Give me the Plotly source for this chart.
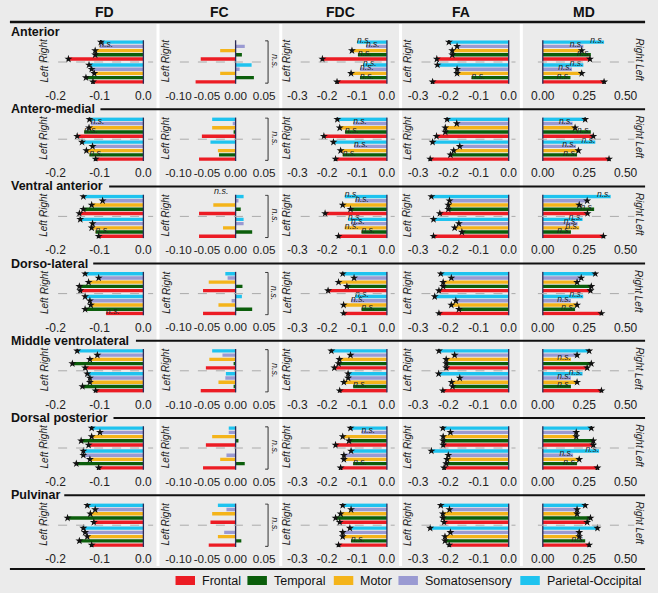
import plotly.graph_objects as go

W, H = 658, 593
BG = "#ebebeb"

regions = ["Anterior", "Antero-medial", "Ventral anterior", "Dorso-lateral",
           "Middle ventrolateral", "Dorsal posterior", "Pulvinar"]
measures = ["FD", "FC", "FDC", "FA", "MD"]
tracts = ["Frontal", "Temporal", "Motor", "Somatosensory", "Parietal-Occipital"]
colors = ["#ec1c24", "#0b5e0b", "#f4b41a", "#9a9ad2", "#1ec3ef"]

# values per region, order: Frontal, Temporal, Motor, Somatosensory, Parietal-Occipital
FD_right = [[-0.171, -0.110, -0.110, -0.100, -0.097],
            [-0.151, -0.135, -0.124, -0.120, -0.123],
            [-0.146, -0.137, -0.118, -0.093, -0.137],
            [-0.144, -0.146, -0.125, -0.102, -0.133],
            [-0.133, -0.162, -0.122, -0.105, -0.151],
            [-0.125, -0.142, -0.118, -0.099, -0.118],
            [-0.113, -0.173, -0.121, -0.110, -0.128]]
FD_left = [[-0.115, -0.131, -0.112, -0.118, -0.124],
           [-0.109, -0.123, -0.130, -0.116, -0.140],
           [-0.102, -0.109, -0.118, -0.116, -0.144],
           [-0.085, -0.133, -0.120, -0.122, -0.133],
           [-0.109, -0.139, -0.122, -0.122, -0.128],
           [-0.102, -0.153, -0.122, -0.137, -0.137],
           [-0.118, -0.146, -0.128, -0.133, -0.137]]
FC_right = [[-0.061, 0.011, -0.027, 0.016, 0.000],
            [-0.059, -0.003, -0.041, -0.005, -0.041],
            [-0.064, 0.009, -0.039, 0.005, 0.014],
            [-0.057, 0.012, -0.047, -0.014, -0.018],
            [-0.052, -0.002, -0.046, -0.023, -0.041],
            [-0.052, 0.005, -0.041, -0.012, -0.012],
            [-0.044, 0.000, -0.041, -0.016, -0.031]]
FC_left = [[-0.070, 0.032, -0.027, 0.007, 0.028],
           [-0.064, -0.029, -0.031, 0.000, -0.044],
           [-0.064, 0.029, -0.022, 0.014, 0.014],
           [-0.057, 0.029, -0.030, -0.007, 0.011],
           [-0.061, -0.002, -0.030, -0.018, -0.017],
           [-0.057, 0.016, -0.027, -0.016, 0.000],
           [-0.047, 0.010, -0.031, -0.020, 0.000]]
FDC_right = [[-0.216, -0.097, -0.117, -0.070, -0.100],
             [-0.211, -0.140, -0.158, -0.113, -0.166],
             [-0.207, -0.122, -0.148, -0.106, -0.141],
             [-0.197, -0.134, -0.162, -0.110, -0.148],
             [-0.176, -0.162, -0.159, -0.122, -0.186],
             [-0.172, -0.127, -0.148, -0.085, -0.122],
             [-0.158, -0.172, -0.155, -0.120, -0.148]]
FDC_left = [[-0.167, -0.090, -0.120, -0.090, -0.080],
            [-0.172, -0.148, -0.155, -0.110, -0.179],
            [-0.162, -0.085, -0.141, -0.120, -0.130],
            [-0.145, -0.085, -0.145, -0.120, -0.106],
            [-0.158, -0.113, -0.144, -0.130, -0.130],
            [-0.155, -0.113, -0.144, -0.144, -0.120],
            [-0.162, -0.120, -0.148, -0.148, -0.124]]
FA_right = [[-0.238, -0.187, -0.187, -0.171, -0.198],
            [-0.239, -0.210, -0.210, -0.172, -0.204],
            [-0.228, -0.200, -0.200, -0.196, -0.256],
            [-0.231, -0.217, -0.217, -0.190, -0.225],
            [-0.207, -0.207, -0.207, -0.179, -0.231],
            [-0.217, -0.217, -0.217, -0.193, -0.218],
            [-0.214, -0.218, -0.218, -0.196, -0.225]]
FA_left = [[-0.252, -0.123, -0.171, -0.171, -0.236],
           [-0.260, -0.193, -0.182, -0.162, -0.252],
           [-0.249, -0.155, -0.179, -0.165, -0.249],
           [-0.231, -0.165, -0.190, -0.175, -0.245],
           [-0.218, -0.186, -0.189, -0.162, -0.232],
           [-0.214, -0.207, -0.204, -0.200, -0.256],
           [-0.197, -0.211, -0.211, -0.193, -0.260]]
MD_right = [[0.285, 0.290, 0.235, 0.245, 0.370],
            [0.305, 0.290, 0.195, 0.180, 0.256],
            [0.270, 0.310, 0.220, 0.268, 0.410],
            [0.288, 0.293, 0.207, 0.232, 0.317],
            [0.268, 0.293, 0.170, 0.207, 0.280],
            [0.305, 0.305, 0.202, 0.202, 0.293],
            [0.268, 0.288, 0.207, 0.207, 0.256]]
MD_left = [[0.370, 0.167, 0.235, 0.176, 0.245],
           [0.400, 0.207, 0.215, 0.200, 0.317],
           [0.366, 0.170, 0.220, 0.210, 0.240],
           [0.354, 0.195, 0.207, 0.170, 0.244],
           [0.354, 0.170, 0.207, 0.170, 0.240],
           [0.330, 0.207, 0.220, 0.183, 0.340],
           [0.280, 0.256, 0.220, 0.220, 0.330]]

# significance: s = star, n = n.s. (order Frontal..Parietal-Occipital)
FD_sig_right = ["sssns", "snsns", "sssss", "sssss", "sssss", "sssss", "sssss"]
FD_sig_left = ["sssss", "snsss", "snsss", "nssss", "sssss", "sssss", "sssss"]
FDC_sig_right = ["snsnn", "snsns", "sssnn", "sssss", "sssss", "sssns", "sssss"]
FDC_sig_left = ["snsnn", "snsns", "snnnn", "snsnn", "snsss", "snsss", "snsss"]
FA_sig_right = ["sssss"] * 7
FA_sig_left = ["snsss", "sssss", "sssss", "sssss", "sssss", "sssss", "sssss"]
MD_sig_right = ["snsnn", "snsns", "snssn", "sssss", "ssnss", "sssss", "sssss"]
MD_sig_left = ["snsnn", "snsnn", "snnnn", "snsnn", "snsnn", "snsnn", "snsss"]

data = {"FD": (FD_right, FD_left, FD_sig_right, FD_sig_left),
        "FC": (FC_right, FC_left, None, None),
        "FDC": (FDC_right, FDC_left, FDC_sig_right, FDC_sig_left),
        "FA": (FA_right, FA_left, FA_sig_right, FA_sig_left),
        "MD": (MD_right, MD_left, MD_sig_right, MD_sig_left)}

# column geometry (pixels): domain, two reference ticks, hemisphere label x
cols = {
    "FD": dict(dom=(44, 150), ref=((-0.2, 50), (0.0, 140)), ticks=[-0.2, -0.1, 0.0],
               labels=["-0.2", "-0.1", "0.0"], hx=38, head=100),
    "FC": dict(dom=(170, 266), ref=((-0.10, 176), (0.05, 264)), ticks=[-0.10, -0.05, 0.0, 0.05],
               labels=["-0.10", "-0.05", "0.00", "0.05"], hx=163, head=218),
    "FDC": dict(dom=(293, 398), ref=((-0.3, 298), (0.0, 390)), ticks=[-0.3, -0.2, -0.1, 0.0],
                labels=["-0.3", "-0.2", "-0.1", "0.0"], hx=287, head=342),
    "FA": dict(dom=(417, 522), ref=((-0.3, 422), (0.0, 515)), ticks=[-0.3, -0.2, -0.1, 0.0],
               labels=["-0.3", "-0.2", "-0.1", "0.0"], hx=411, head=466),
    "MD": dict(dom=(545, 640), ref=((0.0, 550), (0.5, 635)), ticks=[0.0, 0.25, 0.5],
               labels=["0.00", "0.25", "0.50"], hx=649, head=592),
}

pos_right = [4, 3, 2, 1, 0]
pos_left = [9.4, 8.4, 7.4, 6.4, 5.4]
SEP = 4.7
row_y0 = 32
row_step = 77.2
LABEL_SIZE = 12.5
LEG_SIZE = 12.5

# Arial advance widths (per 1000 em) used to place row rules and legend items after text
BOLD_W = {"A": 722, "a": 556, "c": 556, "d": 611, "e": 556, "i": 278, "l": 278, "m": 889, "n": 611,
          "o": 611, "r": 389, "s": 556, "t": 333, "u": 611, "v": 556, "-": 333, " ": 278, "D": 722,
          "M": 833, "P": 667, "V": 667, "b": 611, "p": 611, "h": 611}
REG_W = {"F": 611, "r": 333, "o": 556, "n": 556, "t": 278, "a": 556, "l": 222, "T": 611, "e": 556,
         "m": 833, "p": 556, "M": 833, "S": 667, "s": 500, "y": 500, "P": 667, "i": 222, "-": 333,
         "O": 778, "c": 500}


def text_width(s, size, table):
    return sum(table.get(ch, 560) for ch in s) * size / 1000.0 * 1.07


def px(x):
    return x / W


def py(y):
    return 1 - y / H


fig = go.Figure()
layout = dict(width=W, height=H, margin=dict(l=0, r=0, t=0, b=0),
              paper_bgcolor=BG, plot_bgcolor=BG, showlegend=False,
              font=dict(family="Arial, Liberation Sans, sans-serif", color="#111"),
              barmode="overlay")
shapes = []
annotations = []

# white separators between columns
for xs in [155, 281, 404, 528]:
    shapes.append(dict(type="line", xref="paper", yref="paper", x0=px(xs), x1=px(xs),
                       y0=py(24), y1=py(566), line=dict(color="white", width=3), layer="below"))

# header
for m in measures:
    annotations.append(dict(text="<b>%s</b>" % m, xref="paper", yref="paper", x=px(cols[m]["head"]),
                            y=py(12), showarrow=False, font=dict(size=14, color="#111"),
                            xanchor="center", yanchor="middle"))
shapes.append(dict(type="line", xref="paper", yref="paper", x0=px(3), x1=px(655), y0=py(22), y1=py(22),
                   line=dict(color="#111", width=2.5)))
shapes.append(dict(type="line", xref="paper", yref="paper", x0=px(3), x1=px(655), y0=py(569), y1=py(569),
                   line=dict(color="#111", width=2)))

idx = 0
for r, reg in enumerate(regions):
    Y = row_y0 + r * row_step
    if r > 0:
        lx = 2 + text_width(reg, LABEL_SIZE, BOLD_W) + 4
        shapes.append(dict(type="line", xref="paper", yref="paper", x0=px(lx), x1=px(655), y0=py(Y),
                           y1=py(Y), line=dict(color="#111", width=2)))
    annotations.append(dict(text="<b>%s</b>" % reg, xref="paper", yref="paper", x=px(2), y=py(Y),
                            showarrow=False, xanchor="left", yanchor="middle",
                            font=dict(size=LABEL_SIZE, color="#111")))
    for c, m in enumerate(measures):
        idx += 1
        xa = "xaxis" if idx == 1 else "xaxis%d" % idx
        ya = "yaxis" if idx == 1 else "yaxis%d" % idx
        xr = "x" if idx == 1 else "x%d" % idx
        yr = "y" if idx == 1 else "y%d" % idx
        cfg = cols[m]
        (v0, p0), (v1, p1) = cfg["ref"]
        scale = (p1 - p0) / (v1 - v0)
        d0, d1 = cfg["dom"]
        rng = [v0 + (d0 - p0) / scale, v0 + (d1 - p0) / scale]
        layout[xa] = dict(domain=[px(d0), px(d1)], range=rng, anchor=yr, tickvals=cfg["ticks"],
                          ticktext=cfg["labels"], showgrid=False, zeroline=False, showline=False,
                          ticks="", tickangle=0, ticklabelstandoff=3,
                          tickfont=dict(size=11.7 if m == "FC" else 12, color="#222"), fixedrange=True)
        layout[ya] = dict(domain=[py(Y + 52), py(Y + 8)], range=[9.9, -0.5], anchor=xr, visible=False,
                          fixedrange=True)
        right, left, sr, sl = data[m]
        for t in range(5):
            fig.add_trace(go.Bar(x=[right[r][t], left[r][t]], y=[pos_right[t], pos_left[t]],
                                 orientation="h", width=0.8, marker=dict(color=colors[t], line=dict(width=0)),
                                 xaxis=xr, yaxis=yr, hoverinfo="skip"))
        # zero line
        shapes.append(dict(type="line", xref=xr, yref=yr, x0=0, x1=0, y0=-0.45, y1=9.85,
                           line=dict(color="#2b2b55", width=1.3)))
        # dashed separator
        if m == "MD":
            sx0, sx1 = d0, 644
        else:
            sx0, sx1 = cfg["hx"] - 4, d1
        shapes.append(dict(type="line", xref="paper", yref=yr, x0=px(sx0), x1=px(sx1), y0=SEP, y1=SEP,
                           line=dict(color="#aaaaaa", width=1, dash="dash")))
        # hemisphere labels
        ang = 90 if m == "MD" else -90
        for txt, yy in (("Right", 2.0), ("Left", 7.4)):
            annotations.append(dict(text="<i>%s</i>" % txt, xref="paper", yref=yr, x=px(cfg["hx"]), y=yy,
                                    showarrow=False, textangle=ang, font=dict(size=10, color="#222"),
                                    xanchor="center", yanchor="middle"))
        if sr is not None:
            sx, sy, nx, ny = [], [], [], []
            for t in range(5):
                for vals, sig, pos in ((right, sr, pos_right), (left, sl, pos_left)):
                    v = vals[r][t]
                    if sig[r][t] == "s":
                        sx.append(v)
                        sy.append(pos[t])
                    else:
                        nx.append(v)
                        ny.append(pos[t] - 0.3)
            fig.add_trace(go.Scatter(x=sx, y=sy, mode="markers", xaxis=xr, yaxis=yr, hoverinfo="skip",
                                     marker=dict(symbol="star", size=6, color="#111", line=dict(width=0))))
            if nx:
                fig.add_trace(go.Scatter(x=nx, y=ny, mode="text", text=["<i>n.s.</i>"] * len(nx),
                                         textposition="middle left" if m == "MD" else "middle right",
                                         textfont=dict(size=8.5, color="#222"), xaxis=xr, yaxis=yr,
                                         hoverinfo="skip", cliponaxis=False))
        else:
            # bracket with n.s. for FC
            bx = 268
            shapes.append(dict(type="path", xref="paper", yref=yr,
                               path="M %f,%f L %f,%f L %f,%f L %f,%f" % (
                                   px(bx - 3), -0.3, px(bx), -0.3, px(bx), 9.7, px(bx - 3), 9.7),
                               line=dict(color="#333", width=1)))
            annotations.append(dict(text="<i>n.s.</i>", xref="paper", yref=yr, x=px(bx + 7), y=SEP,
                                    showarrow=False, textangle=90, font=dict(size=9, color="#222"),
                                    xanchor="center", yanchor="middle"))
            if reg == "Ventral anterior":
                annotations.append(dict(text="<i>n.s.</i>", xref="paper", yref="paper", x=px(220),
                                        y=py(Y + 5), showarrow=False, font=dict(size=9, color="#222"),
                                        xanchor="center", yanchor="middle"))

# legend (manual), laid out from 173 px to 653 px
leg_w, leg_pad = 20, 5
widths = [text_width(t, LEG_SIZE, REG_W) for t in tracts]
total = sum(widths) + len(tracts) * (leg_w + leg_pad)
gap = (653 - 173 - total) / (len(tracts) - 1)
x0 = 173.0
for t in range(5):
    shapes.append(dict(type="rect", xref="paper", yref="paper", x0=px(x0), x1=px(x0 + leg_w),
                       y0=py(585), y1=py(576), fillcolor=colors[t], line=dict(width=0)))
    annotations.append(dict(text=tracts[t], xref="paper", yref="paper", x=px(x0 + leg_w + leg_pad),
                            y=py(580.5), showarrow=False, xanchor="left", yanchor="middle",
                            font=dict(size=LEG_SIZE, color="#111")))
    x0 += leg_w + leg_pad + widths[t] + gap

layout["shapes"] = shapes
layout["annotations"] = annotations
fig.update_layout(**layout)
fig.write_html("out.html", config={"displayModeBar": False},
               post_script="document.body.style.margin='0';document.body.style.padding='0';")
